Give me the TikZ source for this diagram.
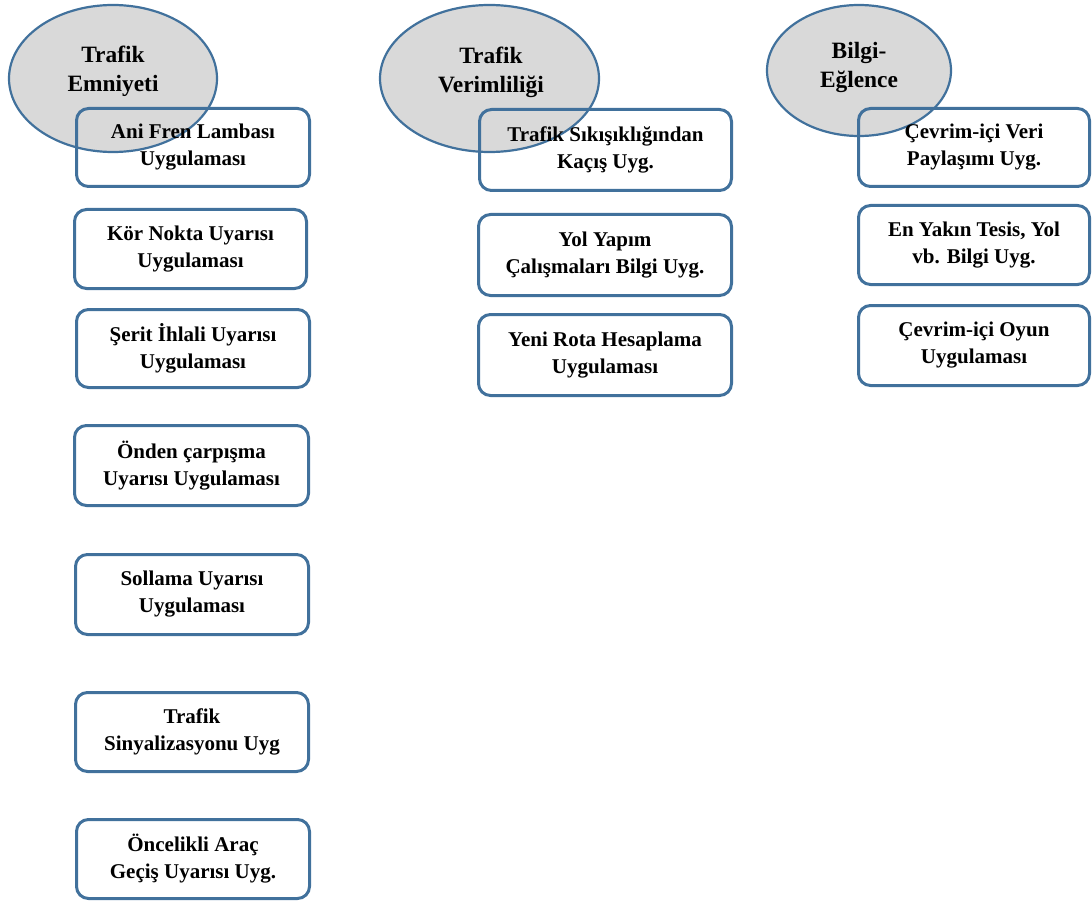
\documentclass[tikz,border=0pt]{standalone}
\usepackage{fontspec}
\setmainfont{Liberation Serif}
\usetikzlibrary{shapes.geometric}
\definecolor{bord}{HTML}{41719C}
\definecolor{ellfill}{HTML}{D9D9D9}
\newcommand\mkbox[6]{\node[appbox,minimum width={#4-#2-3},minimum height={#5-#3-3}] (#1) at ({(#2+#4)/2},{(#3+#5)/2}) {#6};}
\begin{document}
\begin{tikzpicture}[x=1pt,y=-1pt,
 appbox/.style={draw=bord,line width=3pt,rounded corners=12pt,inner sep=0pt,align=center,font=\bfseries\fontsize{21}{27}\selectfont},
 cat/.style={ellipse,draw=bord,fill=ellfill,line width=2.2pt,inner sep=0pt},
 cattext/.style={align=center,font=\bfseries\fontsize{23.4}{29}\selectfont,inner sep=0pt}]
\useasboundingbox (0,0) rectangle (1092,904);
% category ellipses
\node[cat,minimum width=208,minimum height=147] (e1) at (113,78.5) {};
\node[cat,minimum width=219,minimum height=147] (e2) at (489.5,78.5) {};
\node[cat,minimum width=184,minimum height=131] (e3) at (859,70.5) {};
\node[cattext] (t1) at (113,71) {Trafik\\Emniyeti};
\node[cattext] (t2) at (491,72) {Trafik\\Verimliliği};
\node[cattext] (t3) at (859,67) {Bilgi-\\Eğlence};
% column 1
\mkbox{a1}{75}{107}{311}{188}{Ani Fren Lambası\\Uygulaması}
\mkbox{a2}{73}{208}{308}{290}{Kör Nokta Uyarısı\\Uygulaması}
\mkbox{a3}{75}{308}{311}{389}{Şerit İhlali Uyarısı\\Uygulaması}
\mkbox{a4}{73}{424}{310}{507}{Önden çarpışma\\Uyarısı Uygulaması}
\mkbox{a5}{74}{553}{310}{636}{Sollama Uyarısı\\Uygulaması}
\mkbox{a6}{74}{691}{310}{773}{Trafik\\Sinyalizasyonu Uyg}
\mkbox{a7}{75}{818}{311}{900}{Öncelikli Araç\\Geçiş Uyarısı Uyg.}
% column 2
\mkbox{b1}{478}{108}{733}{192}{Trafik Sıkışıklığından\\Kaçış Uyg.}
\mkbox{b2}{477}{213}{733}{297}{Yol Yapım\\Çalışmaları Bilgi Uyg.}
\mkbox{b3}{477}{313}{733}{397}{Yeni Rota Hesaplama\\Uygulaması}
% column 3
\mkbox{c1}{857}{107}{1091}{188}{Çevrim-içi Veri\\Paylaşımı Uyg.}
\mkbox{c2}{857}{204}{1091}{286}{En Yakın Tesis, Yol\\vb. Bilgi Uyg.}
\mkbox{c3}{857}{304}{1091}{387}{Çevrim-içi Oyun\\Uygulaması}
\end{tikzpicture}
\end{document}
